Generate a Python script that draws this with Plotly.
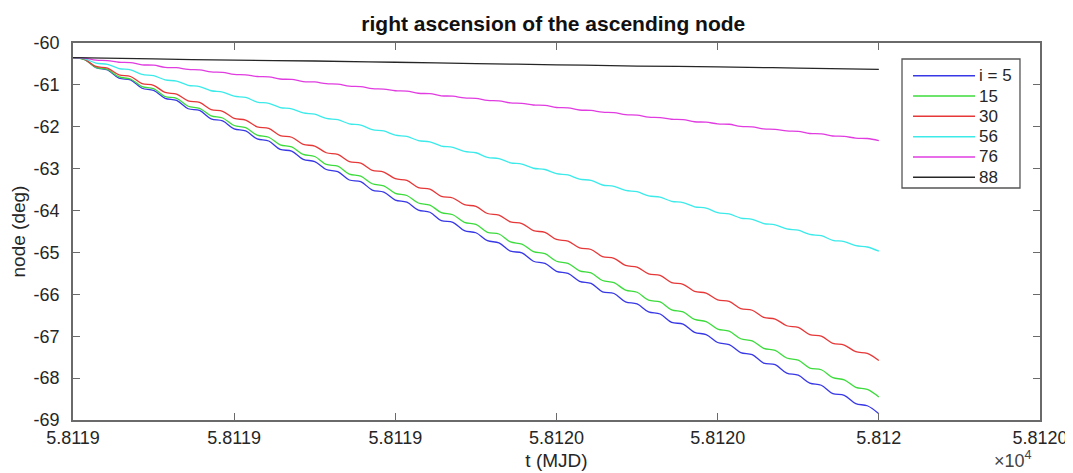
import plotly.graph_objects as go

T0 = 58119.0  # MJD origin of the time axis

# sample times (days after T0): start and middle of each ~0.0286-day oscillation
t_days = [0.0000, 0.0143, 0.0286, 0.0429, 0.0571, 0.0714, 0.0857, 0.1000, 0.1143, 0.1286,
          0.1429, 0.1571, 0.1714, 0.1857, 0.2000, 0.2143, 0.2286, 0.2429, 0.2571, 0.2714,
          0.2857, 0.3000, 0.3143, 0.3286, 0.3429, 0.3571, 0.3714, 0.3857, 0.4000, 0.4143,
          0.4286, 0.4429, 0.4571, 0.4714, 0.4857, 0.5000, 0.5143, 0.5286, 0.5429, 0.5571,
          0.5714, 0.5857, 0.6000, 0.6143, 0.6286, 0.6429, 0.6571, 0.6714, 0.6857, 0.7000,
          0.7143, 0.7286, 0.7429, 0.7571, 0.7714, 0.7857, 0.8000, 0.8143, 0.8286, 0.8429,
          0.8571, 0.8714, 0.8857, 0.9000, 0.9143, 0.9286, 0.9429, 0.9571, 0.9714, 0.9857,
          1.0000]

series_names = ["i = 5", "15", "30", "56", "76", "88"]

node_i5 = [-60.35, -60.39, -60.59, -60.64, -60.84, -60.88, -61.08, -61.13, -61.32, -61.37,
           -61.57, -61.61, -61.81, -61.86, -62.05, -62.10, -62.29, -62.34, -62.54, -62.58,
           -62.78, -62.83, -63.02, -63.07, -63.27, -63.31, -63.51, -63.56, -63.75, -63.80,
           -63.99, -64.04, -64.24, -64.28, -64.48, -64.53, -64.72, -64.77, -64.97, -65.01,
           -65.21, -65.26, -65.45, -65.50, -65.69, -65.74, -65.94, -65.98, -66.18, -66.23,
           -66.42, -66.47, -66.67, -66.71, -66.91, -66.96, -67.15, -67.20, -67.39, -67.44,
           -67.64, -67.68, -67.88, -67.93, -68.12, -68.17, -68.37, -68.41, -68.61, -68.66,
           -68.85]
node_i15 = [-60.35, -60.40, -60.58, -60.63, -60.81, -60.86, -61.04, -61.09, -61.28, -61.32,
            -61.51, -61.56, -61.74, -61.79, -61.97, -62.02, -62.20, -62.25, -62.43, -62.48,
            -62.66, -62.71, -62.90, -62.94, -63.13, -63.18, -63.36, -63.41, -63.59, -63.64,
            -63.82, -63.87, -64.05, -64.10, -64.28, -64.33, -64.52, -64.56, -64.75, -64.80,
            -64.98, -65.03, -65.21, -65.26, -65.44, -65.49, -65.67, -65.72, -65.90, -65.95,
            -66.14, -66.18, -66.37, -66.42, -66.60, -66.65, -66.83, -66.88, -67.06, -67.11,
            -67.29, -67.34, -67.52, -67.57, -67.76, -67.80, -67.99, -68.04, -68.22, -68.27,
            -68.45]
node_i30 = [-60.35, -60.39, -60.56, -60.60, -60.76, -60.80, -60.97, -61.01, -61.18, -61.22,
            -61.38, -61.42, -61.59, -61.63, -61.80, -61.84, -62.00, -62.04, -62.21, -62.25,
            -62.42, -62.46, -62.62, -62.66, -62.83, -62.87, -63.04, -63.08, -63.24, -63.28,
            -63.45, -63.49, -63.66, -63.70, -63.86, -63.90, -64.07, -64.11, -64.27, -64.31,
            -64.48, -64.52, -64.69, -64.73, -64.89, -64.93, -65.10, -65.14, -65.31, -65.35,
            -65.51, -65.55, -65.72, -65.76, -65.93, -65.97, -66.13, -66.17, -66.34, -66.38,
            -66.55, -66.59, -66.75, -66.79, -66.96, -67.00, -67.17, -67.21, -67.37, -67.41,
            -67.58]
node_i56 = [-60.35, -60.38, -60.48, -60.51, -60.61, -60.64, -60.75, -60.78, -60.88, -60.91,
            -61.01, -61.04, -61.14, -61.17, -61.27, -61.30, -61.41, -61.44, -61.54, -61.57,
            -61.67, -61.70, -61.80, -61.83, -61.93, -61.96, -62.07, -62.10, -62.20, -62.23,
            -62.33, -62.36, -62.46, -62.49, -62.59, -62.62, -62.73, -62.76, -62.86, -62.89,
            -62.99, -63.02, -63.12, -63.15, -63.25, -63.28, -63.39, -63.42, -63.52, -63.55,
            -63.65, -63.68, -63.78, -63.81, -63.91, -63.94, -64.05, -64.08, -64.18, -64.21,
            -64.31, -64.34, -64.44, -64.47, -64.57, -64.60, -64.71, -64.74, -64.84, -64.87,
            -64.97]
node_i76 = [-60.35, -60.36, -60.41, -60.42, -60.46, -60.47, -60.52, -60.53, -60.58, -60.59,
            -60.63, -60.64, -60.69, -60.70, -60.75, -60.76, -60.80, -60.81, -60.86, -60.87,
            -60.92, -60.93, -60.97, -60.98, -61.03, -61.04, -61.09, -61.10, -61.14, -61.15,
            -61.20, -61.21, -61.26, -61.27, -61.31, -61.32, -61.37, -61.38, -61.43, -61.44,
            -61.48, -61.49, -61.54, -61.55, -61.60, -61.61, -61.65, -61.66, -61.71, -61.72,
            -61.77, -61.78, -61.82, -61.83, -61.88, -61.89, -61.93, -61.94, -61.99, -62.00,
            -62.05, -62.06, -62.10, -62.11, -62.16, -62.17, -62.22, -62.23, -62.27, -62.28,
            -62.33]
t_days_i88 = [0.0, 0.1, 0.2, 0.3, 0.4, 0.5, 0.6, 0.7, 0.8, 0.9, 1.0]
node_i88 = [-60.35, -60.38, -60.41, -60.43, -60.46, -60.49, -60.52, -60.55, -60.57, -60.60, -60.63]

x_tickvals = [58119.0, 58119.2, 58119.4, 58119.6, 58119.8, 58120.0, 58120.2]
x_ticktext = ["5.8119", "5.8119", "5.8119", "5.8120", "5.8120", "5.812", "5.8120"]
y_tickvals = [-60, -61, -62, -63, -64, -65, -66, -67, -68, -69]
y_ticktext = ["-60", "-61", "-62", "-63", "-64", "-65", "-66", "-67", "-68", "-69"]

colors = ["#3838e6", "#3cdc3c", "#e63838", "#3ceaea", "#e03ce0", "#262626"]
all_y = [node_i5, node_i15, node_i30, node_i56, node_i76, node_i88]
all_t = [t_days, t_days, t_days, t_days, t_days, t_days_i88]

FONT = "Liberation Sans, Arial, sans-serif"
TXT = "#262626"

fig = go.Figure()
for name, ts, ys, c in zip(series_names, all_t, all_y, colors):
    fig.add_trace(go.Scatter(x=[T0 + t for t in ts], y=ys, mode="lines", name=name,
                             line=dict(color=c, width=1.3, shape="spline", smoothing=1.0),
                             showlegend=False))

# page body adds an 8px offset, so the figure is 8px smaller than the window
fig.update_layout(
    width=1065, height=465,
    margin=dict(l=65, r=33, t=35, b=53, autoexpand=False),
    paper_bgcolor="white", plot_bgcolor="white",
    font=dict(family=FONT, size=18, color=TXT),
    title=dict(text="<b>right ascension of the ascending node</b>",
               x=0.512, xanchor="center", y=0.966, yanchor="middle",
               font=dict(family=FONT, size=21, color="#111111")),
    showlegend=False,
)
fig.update_xaxes(range=[58119.0, 58120.2], tickmode="array",
                 tickvals=x_tickvals, ticktext=x_ticktext, automargin=False,
                 ticks="inside", ticklen=7, tickcolor="#6a6a6a",
                 showline=True, linecolor="#6a6a6a", linewidth=1.6, mirror="ticks",
                 showgrid=False, zeroline=False, ticklabelstandoff=1,
                 title=dict(text="t (MJD)", standoff=6, font=dict(size=19)))
fig.update_yaxes(range=[-69, -60], tickmode="array", tickvals=y_tickvals,
                 ticktext=y_ticktext, automargin=False,
                 ticks="inside", ticklen=7, tickcolor="#6a6a6a",
                 showline=True, linecolor="#6a6a6a", linewidth=1.6, mirror="ticks",
                 showgrid=False, zeroline=False, ticklabelstandoff=8,
                 title=dict(text="node (deg)", standoff=6, font=dict(size=19)))

# exponent note under the right end of the x axis
fig.add_annotation(text="\u00d710<sup>4</sup>", xref="paper", yref="paper",
                   x=0.994, y=-0.14, xanchor="right", yanchor="bottom",
                   showarrow=False, font=dict(family=FONT, size=18, color="#444444"))

# legend box drawn like the MATLAB legend
LX0, LX1, LY0, LY1 = 0.8573, 0.9793, 0.6154, 0.9576
fig.add_shape(type="rect", xref="paper", yref="paper", x0=LX0, x1=LX1, y0=LY0, y1=LY1,
              line=dict(color="#555555", width=1.3), fillcolor="white", layer="above")
row_y = [0.9133, 0.8594, 0.8055, 0.7516, 0.6977, 0.6438]
for name, c, ry in zip(series_names, colors, row_y):
    fig.add_shape(type="line", xref="paper", yref="paper", x0=0.8687, x1=0.9328,
                  y0=ry, y1=ry, line=dict(color=c, width=1.5), layer="above")
    fig.add_annotation(text=name, xref="paper", yref="paper", x=0.9345, y=ry,
                       xanchor="left", yanchor="middle", showarrow=False,
                       font=dict(family=FONT, size=17, color=TXT))

fig.write_html("out.html")
